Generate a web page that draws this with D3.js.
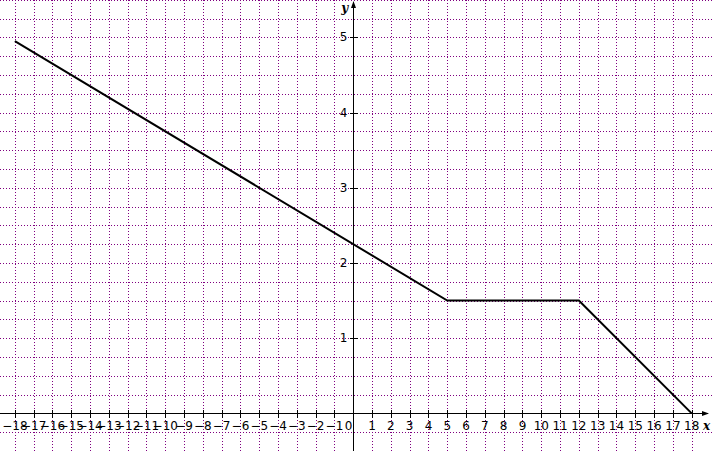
<!DOCTYPE html>
<html><head><meta charset="utf-8">
<script src="https://cdn.jsdelivr.net/npm/d3@7"></script>
<style>body{margin:0;background:#fff}svg{display:block}</style>
</head><body>
<svg id="c" width="712" height="451"></svg>
<script>
const xTicks = [-18,-17,-16,-15,-14,-13,-12,-11,-10,-9,-8,-7,-6,-5,-4,-3,-2,-1,0,1,2,3,4,5,6,7,8,9,10,11,12,13,14,15,16,17,18];
const yTicks = [1,2,3,4,5];
const xGrid = d3.range(-18, 19, 1);
const yGrid = [-0.25,0.25,0.5,0.75,1,1.25,1.5,1.75,2,2.25,2.5,2.75,3,3.25,3.5,3.75,4,4.25,4.5,4.75,5,5.25,5.5];
const px = [-18, 5, 12, 18];
const py = [4.95, 1.5, 1.5, 0];

const W = 712, H = 451;
const x = d3.scaleLinear().domain([-18.79, 19.08]).range([0, W]);
const y = d3.scaleLinear().domain([-0.5, 5.496]).range([H, 0]);
const svg = d3.select('#c');
const X0 = x(0), Y0 = y(0);

// grid
const g = svg.append('g').attr('stroke', '#800080').attr('stroke-width', 1).attr('stroke-dasharray', '1,2').attr('shape-rendering','crispEdges');
xGrid.filter(v => v !== 0).forEach(v => {
  const xx = Math.round(x(v)) + 0.5;
  g.append('line').attr('x1', xx).attr('x2', xx).attr('y1', 0).attr('y2', H);
});
yGrid.forEach(v => {
  const yy = Math.round(y(v)) + 0.5;
  g.append('line').attr('x1', 0).attr('x2', W).attr('y1', yy).attr('y2', yy);
});

// axes
const ax = svg.append('g').attr('stroke', '#000').attr('stroke-width', 1).attr('shape-rendering','crispEdges');
const xa = Math.round(X0) + 0.5, ya = Math.round(Y0) + 0.5;
ax.append('line').attr('x1', 0).attr('x2', W - 4).attr('y1', ya).attr('y2', ya);
ax.append('line').attr('x1', xa).attr('x2', xa).attr('y1', 3).attr('y2', H);
svg.append('path').attr('d', `M${W-3},${ya} l-7,-2.5 l0,5 z`).attr('fill', '#000');
svg.append('path').attr('d', `M${xa},1 l-2.5,7 l5,0 z`).attr('fill', '#000');

xTicks.filter(v => v !== 0).forEach(v => {
  const xx = Math.round(x(v)) + 0.5;
  ax.append('line').attr('x1', xx).attr('x2', xx).attr('y1', ya - 4).attr('y2', ya + 4);
});
yTicks.forEach(v => {
  const yy = Math.round(y(v)) + 0.5;
  ax.append('line').attr('x1', xa - 4).attr('x2', xa + 4).attr('y1', yy).attr('y2', yy);
});

const fmt = v => v < 0 ? '\u2212' + Math.abs(v) : String(v);
const tl = svg.append('g').attr('font-family', 'DejaVu Sans, sans-serif').attr('font-size', 12).attr('fill', '#000');
xTicks.forEach(v => {
  tl.append('text').attr('x', v === 0 ? X0 - 1 : x(v)).attr('y', Y0 + 17)
    .attr('text-anchor', v === 0 ? 'end' : 'middle').text(fmt(v));
});
yTicks.forEach(v => {
  tl.append('text').attr('x', X0 - 6).attr('y', y(v) + 4).attr('text-anchor', 'end').text(fmt(v));
});
svg.append('text').attr('x', 703).attr('y', Y0 + 17).attr('font-family', 'DejaVu Serif, serif').attr('font-style', 'italic').attr('font-weight','bold').attr('font-size', 12).text('x');
svg.append('text').attr('x', X0 - 12).attr('y', 12).attr('font-family', 'DejaVu Serif, serif').attr('font-style', 'italic').attr('font-weight','bold').attr('font-size', 12).text('y');

// data line
const line = d3.line().x(d => x(d[0])).y(d => y(d[1]));
svg.append('path').datum(d3.zip(px, py)).attr('d', line).attr('fill', 'none').attr('stroke', '#000').attr('stroke-width', 2);
</script>
</body></html>
